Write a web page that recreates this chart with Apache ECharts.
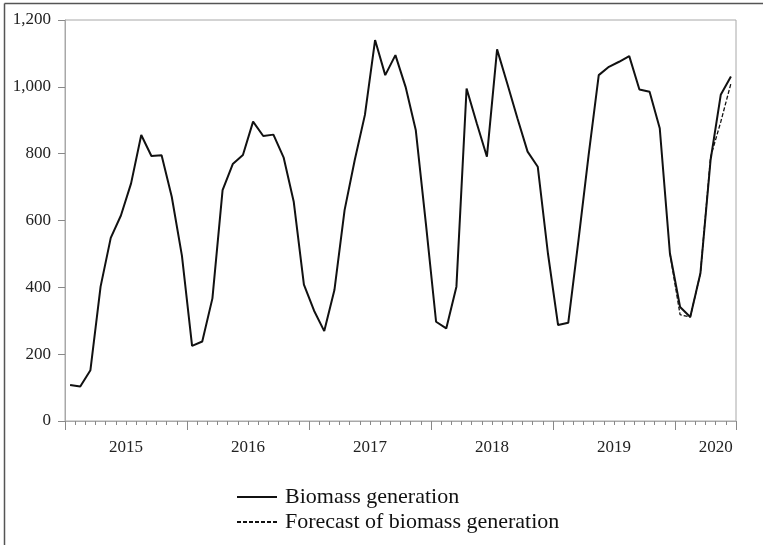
<!DOCTYPE html>
<html>
<head>
<meta charset="utf-8">
<script src="https://cdn.jsdelivr.net/npm/echarts@6/dist/echarts.min.js"></script>
<style>
html,body{margin:0;padding:0;background:#fff;}
#c{width:763px;height:545px;}
</style>
</head>
<body>
<div id="c"></div>
<script>
// Data (monthly, Jan 2015 - Jun 2020)
var years = ['2015','2016','2017','2018','2019','2020'];
var monthCodes = ['01','02','03','04','05','06','07','08','09','10','11','12'];
var lastYearMonths = 6;

var biomass = [
  108, 103, 152, 402, 548, 615, 711, 856, 793, 795, 671, 495,
  225, 238, 367, 691, 769, 796, 896, 853, 857, 789, 656, 408,
  330, 269, 392, 631, 781, 916, 1140, 1035, 1095, 1000, 871, 590,
  297, 277, 402, 995, 891, 791, 1112, 1010, 906, 806, 761, 502,
  287, 294, 540, 795, 1035, 1060, 1075, 1092, 992, 985, 876, 502,
  341, 311, 442, 781, 976, 1031
];
var forecast = [
  null, null, null, null, null, null, null, null, null, null, null, null,
  null, null, null, null, null, null, null, null, null, null, null, null,
  null, null, null, null, null, null, null, null, null, null, null, null,
  null, null, null, null, null, null, null, null, null, null, null, null,
  null, null, null, null, null, null, null, null, null, null, null, 502,
  318, 311, 442, 790, 895, 1010
];
var yTicks = [0, 200, 400, 600, 800, 1000, 1200];
var seriesNames = ['Biomass generation', 'Forecast of biomass generation'];

var months = [];
years.forEach(function (y, yi) {
  var n = (yi === years.length - 1) ? lastYearMonths : 12;
  for (var m = 0; m < n; m++) months.push(y + '-' + monthCodes[m]);
});

var serif = '"Liberation Serif", "Times New Roman", serif';
var gridColor = '#a8a8a8';

var chart = echarts.init(document.getElementById('c'), null, {renderer: 'canvas'});
chart.setOption({
  backgroundColor: '#ffffff',
  animation: false,
  grid: {
    left: 65, right: 27, top: 20, bottom: 124,
    show: true, borderColor: gridColor, borderWidth: 1, backgroundColor: 'transparent'
  },
  legend: {
    orient: 'vertical',
    left: 236, top: 486,
    padding: 0,
    itemWidth: 40, itemHeight: 10, itemGap: 3,
    itemStyle: {opacity: 0},
    textStyle: {fontFamily: serif, fontSize: 22, color: '#111', lineHeight: 22, padding: [0, 0, 0, 3]},
    data: seriesNames
  },
  xAxis: [{
    type: 'category',
    data: months,
    boundaryGap: true,
    axisLine: {show: true, lineStyle: {color: gridColor, width: 1}},
    axisTick: {show: true, interval: 0, length: 4, lineStyle: {color: '#888', width: 1}},
    axisLabel: {
      show: true,
      interval: function (idx) {
        var last = months.length - 1;
        if (idx === last - 1) return true;
        return (idx % 12 === 6) && idx < months.length - lastYearMonths;
      },
      formatter: function (v) { return v.slice(0, 4); },
      fontFamily: serif, fontSize: 17, color: '#222',
      margin: 18,
      padding: [0, 10, 0, 0]
    },
    splitLine: {show: false}
  }, {
    type: 'category',
    data: months,
    boundaryGap: true,
    position: 'bottom',
    axisLine: {show: false},
    axisTick: {
      show: true, length: 9, lineStyle: {color: '#888', width: 1},
      interval: function (idx) { return idx % 12 === 0; }
    },
    axisLabel: {show: false},
    splitLine: {show: false}
  }],
  yAxis: {
    type: 'value',
    min: yTicks[0], max: yTicks[yTicks.length - 1], interval: 200,
    axisLine: {show: true, lineStyle: {color: gridColor}},
    axisTick: {show: true, length: 7, lineStyle: {color: '#888'}},
    axisLabel: {
      fontFamily: serif, fontSize: 17, color: '#222', margin: 14,
      formatter: function (v) { return v.toLocaleString('en-US'); }
    },
    splitLine: {show: false}
  },
  series: [{
    name: seriesNames[0],
    type: 'line',
    data: biomass,
    symbol: 'none',
    lineStyle: {color: '#111', width: 2},
    itemStyle: {color: '#111'},
    z: 3
  }, {
    name: seriesNames[1],
    type: 'line',
    data: forecast,
    symbol: 'none',
    connectNulls: false,
    lineStyle: {color: '#111', width: 1.3, type: [4, 2]},
    itemStyle: {color: '#111'},
    z: 4
  }],
  graphic: [{
    type: 'line', silent: true,
    shape: {x1: 4.5, y1: 3.5, x2: 763, y2: 3.5},
    style: {stroke: '#555', lineWidth: 1.5}
  }, {
    type: 'line', silent: true,
    shape: {x1: 4.5, y1: 3.5, x2: 4.5, y2: 545},
    style: {stroke: '#555', lineWidth: 1.5}
  }]
});
</script>
</body>
</html>
